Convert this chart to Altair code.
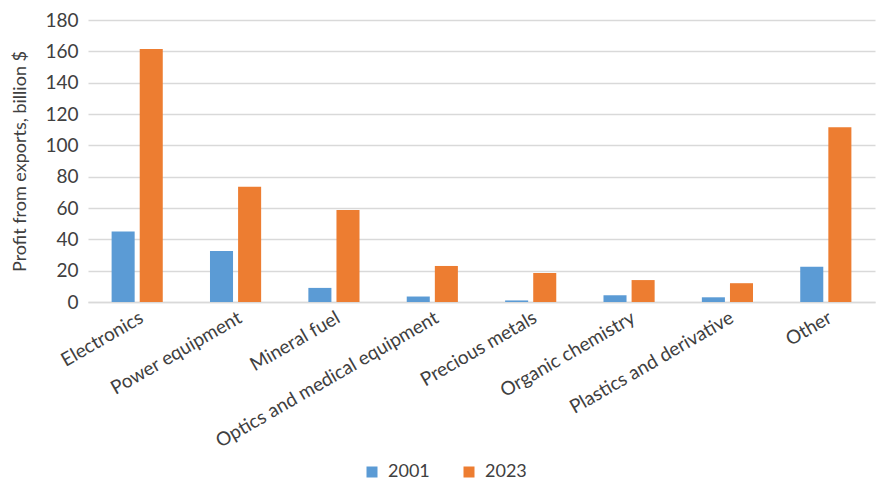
import altair as alt
import pandas as pd

categories = ["Electronics", "Power equipment", "Mineral fuel", "Optics and medical equipment",
              "Precious metals", "Organic chemistry", "Plastics and derivative", "Other"]
v2001 = [45, 32.5, 9, 3.5, 1, 4.3, 3, 22.5]
v2023 = [161.5, 73.5, 58.7, 23, 18.5, 14, 12, 111.5]
years = ["2001", "2023"]

rows = []
for c, a, b in zip(categories, v2001, v2023):
    rows.append({"cat": c, "year": "2001", "v": a})
    rows.append({"cat": c, "year": "2023", "v": b})
df = pd.DataFrame(rows)

FONT = "Lato"
TXT = "#404040"

chart = alt.Chart(df).mark_bar().encode(
    x=alt.X("cat:N", sort=categories, title=None,
            scale=alt.Scale(paddingInner=0.48, paddingOuter=0.24),
            axis=alt.Axis(labelAngle=-30, labelAlign="right", labelBaseline="top",
                          labelFontSize=19, labelColor=TXT, labelFont=FONT,
                          ticks=False, domainColor="#d9d9d9", domainWidth=1.5,
                          labelPadding=6, labelLimit=400)),
    xOffset=alt.XOffset("year:N", scale=alt.Scale(paddingInner=0.18)),
    y=alt.Y("v:Q", title="Profit from exports, billion $",
            scale=alt.Scale(domain=[0, 180], nice=False),
            axis=alt.Axis(values=list(range(0, 181, 20)), domain=False, ticks=False,
                          gridColor="#d9d9d9", gridWidth=1.5, labelFontSize=19,
                          labelColor=TXT, labelFont=FONT, labelPadding=10,
                          titleFont=FONT, titleFontSize=18, titleFontWeight="normal",
                          titleColor=TXT, titlePadding=15)),
    color=alt.Color("year:N", scale=alt.Scale(domain=years, range=["#5b9bd5", "#ed7d31"]),
                    legend=alt.Legend(title=None, orient="none", direction="horizontal",
                                      legendX=275, legendY=443, symbolType="square",
                                      symbolSize=121, labelFontSize=18, labelFont=FONT,
                                      labelColor=TXT, columnPadding=30, labelOffset=7,
                                      symbolStrokeWidth=0)),
).properties(
    width=787, height=282,
    autosize=alt.AutoSizeParams(type="none"),
    padding={"left": 88, "top": 20, "right": 5, "bottom": 182},
).configure_view(stroke=None)

chart.save("out.html", embed_options={"renderer": "svg", "actions": False})
